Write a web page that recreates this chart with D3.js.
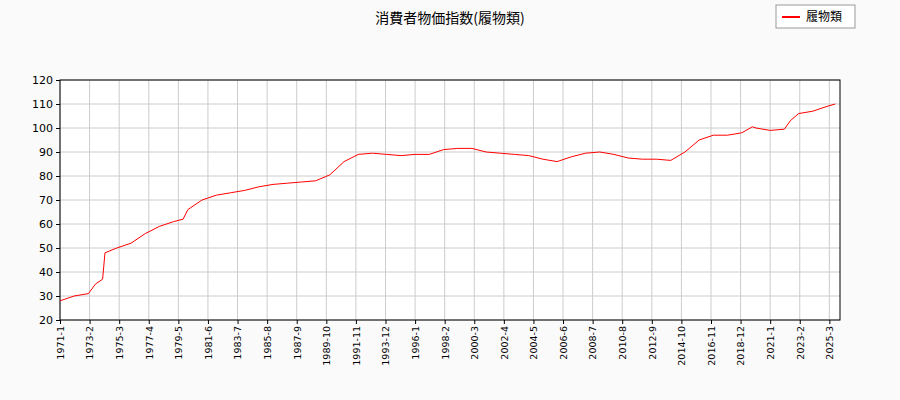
<!DOCTYPE html><html><head><meta charset="utf-8"><script src="https://cdn.jsdelivr.net/npm/d3@7"></script>
<style>body{margin:0;background:#fafafa}</style></head><body><svg id="c" width="900" height="400"></svg>
<script>
const dates=["1971-1","1972-1","1973-1","1973-7","1974-1","1974-3","1975-1","1976-1","1977-1","1978-1","1979-1","1979-9","1980-1","1981-1","1982-1","1983-1","1984-1","1985-1","1986-1","1987-1","1988-1","1989-1","1990-1","1991-1","1992-1","1993-1","1994-1","1995-1","1996-1","1997-1","1998-1","1999-1","2000-1","2001-1","2002-1","2003-1","2004-1","2005-1","2006-1","2007-1","2008-1","2009-1","2010-1","2011-1","2012-1","2013-1","2014-1","2015-1","2016-1","2017-1","2018-1","2019-1","2019-10","2020-1","2021-1","2022-1","2022-6","2023-1","2024-1","2025-1","2025-8"];
const values=[28,30,31,35,37,48,50,52,56,59,61,62,66,70,72,73,74,75.5,76.5,77,77.5,78,80.5,86,89,89.5,89,88.5,89,89,91,91.5,91.5,90,89.5,89,88.5,87,86,88,89.5,90,89,87.5,87,87,86.5,90,95,97,97,98,100.5,100,99,99.5,103,106,107,109,110];
const tickLabels=["1971-1","1973-2","1975-3","1977-4","1979-5","1981-6","1983-7","1985-8","1987-9","1989-10","1991-11","1993-12","1996-1","1998-2","2000-3","2002-4","2004-5","2006-6","2008-7","2010-8","2012-9","2014-10","2016-11","2018-12","2021-1","2023-2","2025-3"];
const yTicks=[20,30,40,50,60,70,80,90,100,110,120];
const idx=s=>{const [y,m]=s.split("-").map(Number);return (y-1971)*12+m-1;};
const svg=d3.select("#c");
const x=d3.scaleLinear().domain([0,659]).range([60,840]);
const y=d3.scaleLinear().domain([20,120]).range([320,80]);
svg.append("rect").attr("x",60).attr("y",80).attr("width",780).attr("height",240).attr("fill","#fff");
const g=svg.append("g");
g.selectAll(".gx").data(tickLabels).join("line").attr("x1",d=>x(idx(d))).attr("x2",d=>x(idx(d))).attr("y1",80).attr("y2",320).attr("stroke","#ccc");
g.selectAll(".gy").data(yTicks).join("line").attr("x1",60).attr("x2",840).attr("y1",d=>y(d)).attr("y2",d=>y(d)).attr("stroke","#ccc");
svg.append("rect").attr("x",60).attr("y",80).attr("width",780).attr("height",240).attr("fill","none").attr("stroke","#000");
const line=d3.line().x((d,i)=>x(idx(dates[i]))).y(d=>y(d));
svg.append("path").datum(values).attr("d",line).attr("fill","none").attr("stroke","red").attr("stroke-width",1);
const xa=svg.append("g").attr("transform","translate(0,320)").call(d3.axisBottom(x).tickValues(tickLabels.map(idx)).tickFormat((d,i)=>tickLabels[i]).tickSize(4));
xa.select(".domain").remove();
xa.selectAll("text").attr("transform","rotate(-90)").attr("text-anchor","end").attr("dx","-6").attr("dy","0.35em").attr("x",0).attr("y",0).style("font-family","DejaVu Sans").style("font-size","9.5px");
const ya=svg.append("g").attr("transform","translate(60,0)").call(d3.axisLeft(y).tickValues(yTicks).tickSize(4));
ya.select(".domain").remove();
ya.selectAll("text").style("font-family","DejaVu Sans").style("font-size","11px");
svg.append("text").attr("x",450).attr("y",23).attr("text-anchor","middle").style("font-family","Noto Sans CJK JP").style("font-size","14px").text("消費者物価指数(履物類)");
svg.append("rect").attr("x",776).attr("y",5).attr("width",79).attr("height",23).attr("fill","#fff").attr("stroke","#999");
svg.append("line").attr("x1",782).attr("x2",800).attr("y1",17).attr("y2",17).attr("stroke","red").attr("stroke-width",2);
svg.append("text").attr("x",806).attr("y",21).style("font-family","Noto Sans CJK JP").style("font-size","12px").text("履物類");
</script></body></html>
